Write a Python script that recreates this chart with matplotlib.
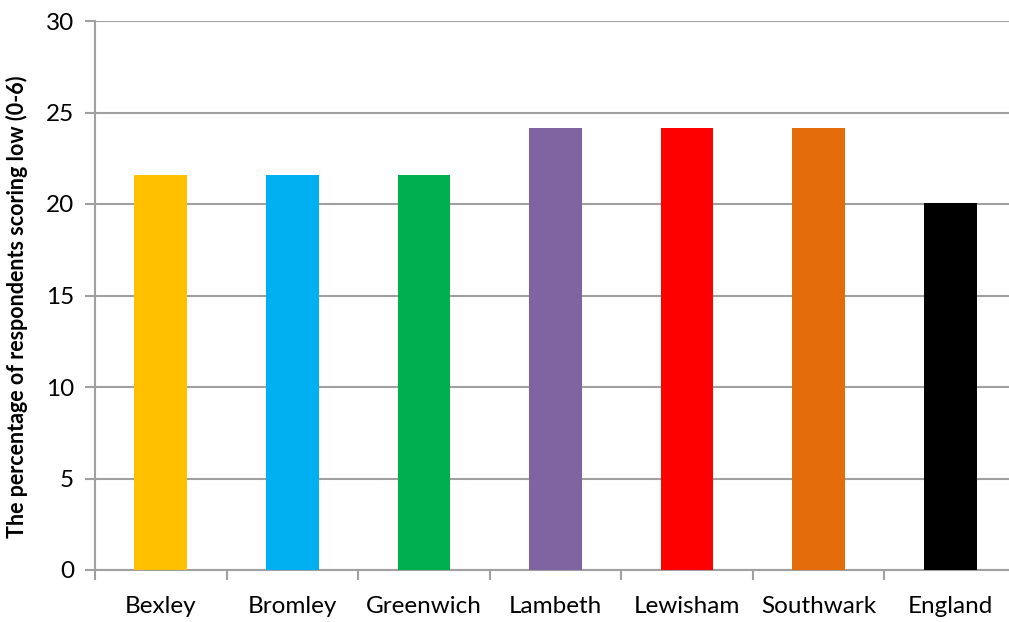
import matplotlib.pyplot as plt
import numpy as np

areas = ["Bexley", "Bromley", "Greenwich", "Lambeth", "Lewisham", "Southwark", "England"]
values = [21.6, 21.6, 21.6, 24.15, 24.15, 24.15, 20.05]
colors = ["#FFC000", "#00B0F0", "#00B050", "#8064A2", "#FF0000", "#E46C0A", "#000000"]

plt.rcParams['font.family'] = ['Lato', 'DejaVu Sans']

fig = plt.figure(figsize=(10.09, 6.22), dpi=100)
# axes deliberately runs a little past the right edge, as in the original
ax = fig.add_axes([95 / 1009, 52 / 622, 921 / 1009, 549 / 622])

x = np.arange(len(areas))
ax.bar(x, values, width=0.40, color=colors, zorder=3)

ax.set_xlim(-0.5, len(areas) - 0.5)
ax.set_ylim(0, 30)
ax.set_yticks(np.arange(0, 31, 5))
ax.yaxis.grid(True, color="#A0A0A0", linewidth=1.5, zorder=0)

ax.set_xticks(x)
ax.set_xticklabels(areas, fontsize=17.5)
ax.set_xticks(np.arange(-0.5, len(areas), 1), minor=True)
ax.tick_params(axis="x", which="major", length=0, pad=19)
ax.tick_params(axis="x", which="minor", length=7, width=1.5, color="#A0A0A0", direction="out")
ax.tick_params(axis="y", labelsize=17.5, length=7, width=1.5, color="#A0A0A0", pad=8)

for side in ["top", "right"]:
    ax.spines[side].set_visible(False)
for side in ["left", "bottom"]:
    ax.spines[side].set_color("#A0A0A0")
    ax.spines[side].set_linewidth(1.5)

ax.set_ylabel("The percentage of respondents scoring low (0-6)", fontsize=15.5, fontweight="bold")
ax.yaxis.set_label_coords(-0.073, 0.48)

fig.savefig("out.png", dpi=100)
